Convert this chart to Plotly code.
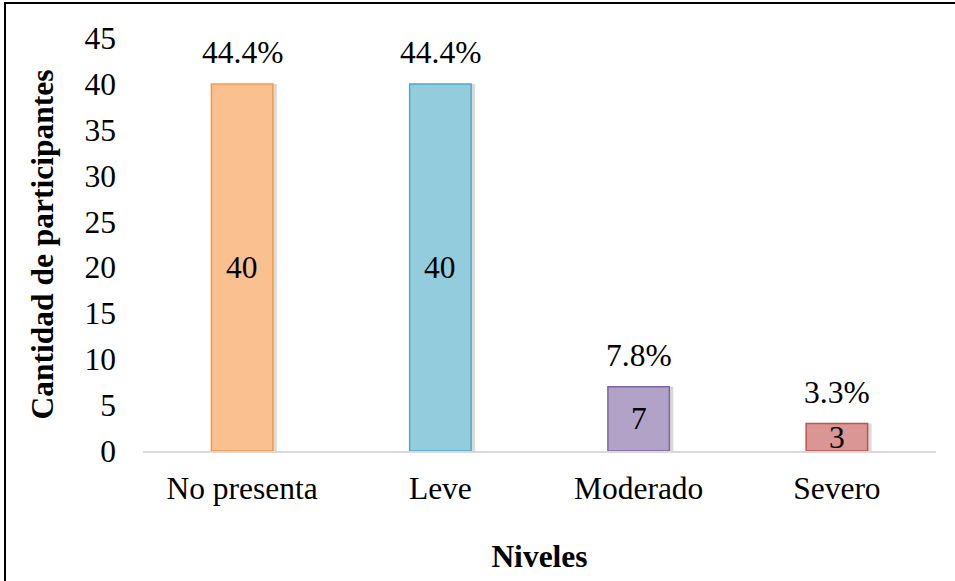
import plotly.graph_objects as go

categories = ["No presenta", "Leve", "Moderado", "Severo"]
counts = [40, 40, 7, 3]
percent_labels = ["44.4%", "44.4%", "7.8%", "3.3%"]
fill_colors = ["#FAC090", "#93CDDD", "#B3A2C7", "#D99694"]
line_colors = ["#F79646", "#4BACC6", "#8064A2", "#C0504D"]

W, H = 955, 581
ml, mr, mt, mb = 143, 19, 38, 130
font = "Liberation Serif, Times New Roman, serif"
FS = 31.5

fig = go.Figure()
# soft shadow behind bars
fig.add_trace(go.Bar(
    x=categories, y=counts, width=0.31, offset=-0.135,
    marker=dict(color="rgba(0,0,0,0.15)", line=dict(width=0)),
    hoverinfo="skip", showlegend=False,
))
fig.add_trace(go.Bar(
    x=categories, y=counts, width=0.31, offset=-0.155,
    marker=dict(color=fill_colors, line=dict(color=line_colors, width=1.5)),
    showlegend=False,
))

annotations = []
for cat, c, p in zip(categories, counts, percent_labels):
    annotations.append(dict(x=cat, y=c / 2, text=str(c), showarrow=False,
                            xanchor="center", yanchor="middle",
                            font=dict(family=font, size=FS, color="black")))
    annotations.append(dict(x=cat, y=c, text=p, showarrow=False,
                            xanchor="center", yanchor="middle", yshift=31,
                            font=dict(family=font, size=FS, color="black")))

fig.update_layout(
    width=W, height=H, barmode="overlay",
    margin=dict(l=ml, r=mr, t=mt, b=mb),
    paper_bgcolor="white", plot_bgcolor="white",
    font=dict(family=font, size=FS, color="black"),
    annotations=annotations,
    xaxis=dict(showline=True, linecolor="#D9D9D9", linewidth=2, showgrid=False,
               ticks="", tickfont=dict(family=font, size=FS), ticklabelstandoff=8,
               title=dict(text="<b>Niveles</b>", font=dict(family=font, size=FS), standoff=40)),
    yaxis=dict(range=[0, 45], dtick=5, showgrid=False, showline=False, zeroline=False,
               ticks="", tickfont=dict(family=font, size=FS), ticklabelstandoff=26,
               title=dict(text="<b>Cantidad de participantes</b>", font=dict(family=font, size=FS), standoff=21)),
    shapes=[dict(type="rect", xref="paper", yref="paper",
                 x0=-(ml - 5) / (W - ml - mr), x1=1 + (mr + 5) / (W - ml - mr),
                 y0=-(mb + 5) / (H - mt - mb), y1=1 + (mt - 3) / (H - mt - mb),
                 line=dict(color="black", width=2), layer="below")],
)
fig.write_html("out.html", config={"displayModeBar": False},
               post_script="document.body.style.margin='0';document.body.style.overflow='hidden';")
